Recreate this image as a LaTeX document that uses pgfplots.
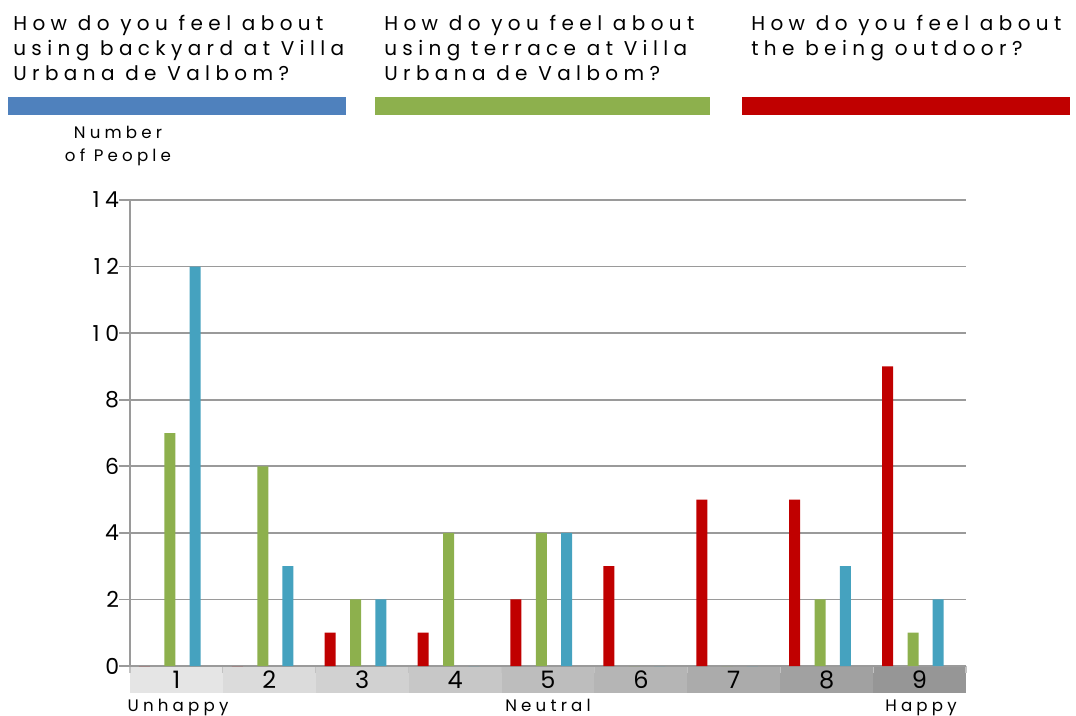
\documentclass[border=0pt]{standalone}
\usepackage{fontspec}
\setmainfont{Poppins}[LetterSpace=25]
\newfontfamily\hdrfont{Poppins}[LetterSpace=27]
\usepackage{pgfplots}
\pgfplotsset{compat=1.18}

\definecolor{legblue}{HTML}{4F81BD}
\definecolor{grn}{HTML}{8DB04D}
\definecolor{legred}{HTML}{C00000}
\definecolor{teal}{HTML}{45A2BF}
\definecolor{gridgray}{HTML}{9A9A9A}

% survey answers per rating (1 = unhappy ... 9 = happy)
\pgfplotstableread{
rating outdoor terrace backyard
1 0 7 12
2 0 6 3
3 1 2 2
4 1 4 0
5 2 4 4
6 3 0 0
7 5 0 0
8 5 2 3
9 9 1 2
}\answers

\newcommand{\hdrline}[3]{\node[anchor=base west, inner sep=0, font=\hdrfont\fontsize{15}{16}\selectfont] at (#1,715-#2) {#3};}

\begin{document}
\begin{tikzpicture}[x=0.75pt,y=0.75pt]
\path (0,0) rectangle (1076,715);

% question headers
\hdrline{13}{31}{How do you feel about}
\hdrline{13}{56}{using backyard at Villa}
\hdrline{13}{81}{Urbana de Valbom?}
\hdrline{384}{31}{How do you feel about}
\hdrline{384}{56}{using terrace at Villa}
\hdrline{384}{81}{Urbana de Valbom?}
\hdrline{751}{31}{How do you feel about}
\hdrline{751}{56}{the being outdoor?}
\fill[legblue] (8,715-115) rectangle (346,715-97);
\fill[grn] (375,715-115) rectangle (710,715-97);
\fill[legred] (742,715-115) rectangle (1070,715-97);

% axis title
\node[align=center, font=\fontsize{12.5}{17}\selectfont, inner sep=0] at (118,715-146) {Number\\of People};

\begin{axis}[
  set layers,
  at={(97.5pt,36.75pt)}, anchor=south west,
  scale only axis, width=627pt, height=349.5pt,
  clip=false,
  xmin=0.5, xmax=9.5, ymin=0, ymax=14,
  ybar, bar width=8.25pt,
  axis x line*=bottom, axis y line*=left,
  axis line style={line width=1.2pt, gridgray, -},
  ytick={0,2,...,14},
  xtick={1,...,9},
  minor xtick={0.5,1.5,...,9.5},
  ymajorgrids,
  grid style={line width=1.2pt, gridgray},
  tick align=outside,
  major tick length=8pt,
  minor tick length=5pt,
  ytick style={line width=1.2pt, gridgray},
  xtick style={draw=none},
  minor x tick style={draw=gridgray!60, line width=0.8pt},
  /pgf/number format/assume math mode=true,
  yticklabel style={font=\fontsize{16.5}{16.5}\selectfont, inner xsep=0pt},
  xticklabel style={font=\fontsize{18}{18}\selectfont, anchor=center, yshift=-2.5pt},
]
\begin{pgfonlayer}{axis background}
  \fill[black!10] (axis cs:0.5,0) rectangle (axis cs:1.5,-0.81);
  \fill[black!14] (axis cs:1.5,0) rectangle (axis cs:2.5,-0.81);
  \fill[black!18] (axis cs:2.5,0) rectangle (axis cs:3.5,-0.81);
  \fill[black!22] (axis cs:3.5,0) rectangle (axis cs:4.5,-0.81);
  \fill[black!26] (axis cs:4.5,0) rectangle (axis cs:5.5,-0.81);
  \fill[black!29] (axis cs:5.5,0) rectangle (axis cs:6.5,-0.81);
  \fill[black!33] (axis cs:6.5,0) rectangle (axis cs:7.5,-0.81);
  \fill[black!37] (axis cs:7.5,0) rectangle (axis cs:8.5,-0.81);
  \fill[black!41] (axis cs:8.5,0) rectangle (axis cs:9.5,-0.81);
\end{pgfonlayer}
\addplot[fill=legred, draw=none, bar shift=-24pt] table[x=rating, y=outdoor] {\answers};
\addplot[fill=grn, draw=none, bar shift=-4.9pt] table[x=rating, y=terrace] {\answers};
\addplot[fill=teal, draw=none, bar shift=14pt] table[x=rating, y=backyard] {\answers};
\end{axis}

% scale end labels
\node[anchor=base, inner sep=0, font=\fontsize{12.5}{14}\selectfont] at (178,715-711) {Unhappy};
\node[anchor=base, inner sep=0, font=\fontsize{12.5}{14}\selectfont] at (548,715-711) {Neutral};
\node[anchor=base, inner sep=0, font=\fontsize{12.5}{14}\selectfont] at (921,715-711) {Happy};
\end{tikzpicture}
\end{document}
